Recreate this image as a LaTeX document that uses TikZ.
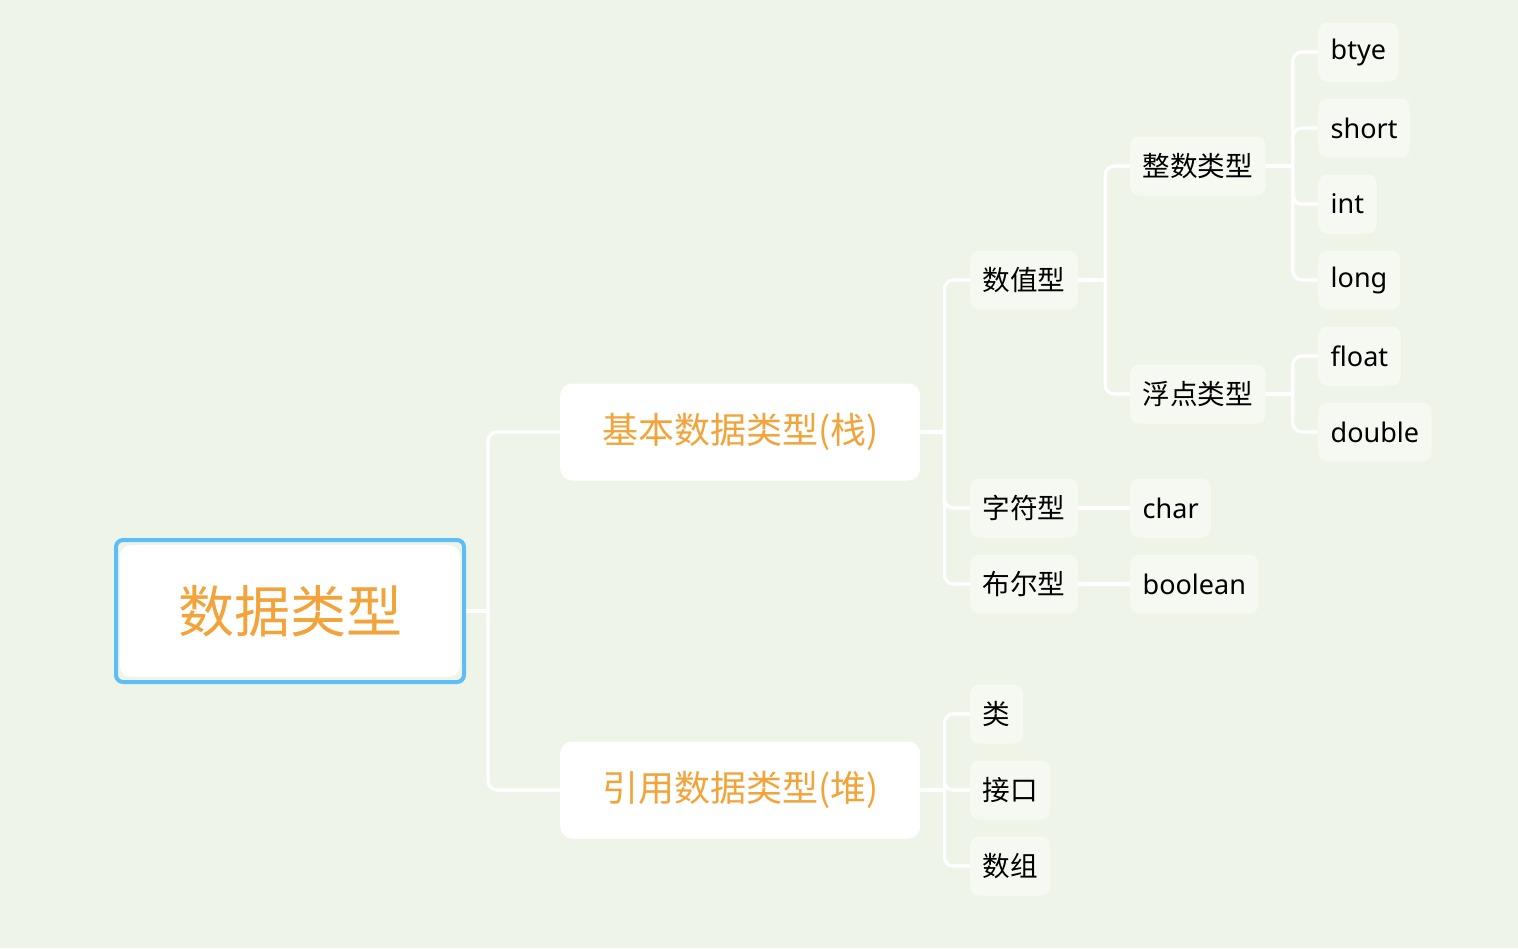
\documentclass[tikz,border=0pt]{standalone}
\usepackage{fontspec}
\setmainfont{Noto Sans}
\newfontfamily\cjk{Noto Sans CJK SC}
\usetikzlibrary{calc}
\definecolor{bgc}{HTML}{EEF4E8}
\definecolor{leaff}{HTML}{F6F9F1}
\definecolor{orng}{HTML}{F2A33A}
\definecolor{blu}{HTML}{5DBDF6}
\tikzset{
  conn/.style={draw=white,line width=3.2pt,rounded corners=9pt},
  leafbox/.style={fill=leaff,rounded corners=9pt,anchor=west,inner xsep=12.5pt,inner ysep=0pt,minimum height=59pt,font=\fontsize{27}{30}\selectfont,text=black},
  cleaf/.style={leafbox,font=\cjk\fontsize{27.6}{30}\selectfont},
  midbox/.style={fill=white,rounded corners=12pt,minimum width=360pt,minimum height=97pt,inner sep=0pt,anchor=west,font=\cjk\fontsize{36}{40}\selectfont,text=orng},
}
\begin{document}
\begin{tikzpicture}[x=1pt,y=-1pt]
\fill[bgc] (0,0) rectangle (1518,948);
\useasboundingbox (0,0) rectangle (1518,948);
% root
\node[draw=blu,line width=4pt,fill=bgc,rounded corners=7pt,minimum width=348pt,minimum height=142pt,inner sep=0pt] (root) at (290,611) {};
\node[fill=white,rounded corners=11pt,minimum width=340pt,minimum height=132pt,inner sep=0pt,font=\cjk\fontsize{56}{60}\selectfont,text=orng] (rootin) at (290,611) {数据类型};
% level 1
\node[midbox] (jb) at (560,432) {基本数据类型(栈)};
\node[midbox] (yy) at (560,790) {引用数据类型(堆)};
% level 2
\node[cleaf] (szx) at (970,280) {数值型};
\node[cleaf] (zfx) at (970,508) {字符型};
\node[cleaf] (bex) at (970,584) {布尔型};
\node[cleaf] (lei) at (970,714) {类};
\node[cleaf] (jk) at (970,790) {接口};
\node[cleaf] (sz) at (970,866) {数组};
% level 3
\node[cleaf] (zslx) at (1130,166) {整数类型};
\node[cleaf] (fdlx) at (1130,394) {浮点类型};
\node[leafbox] (char) at (1130,508) {char};
\node[leafbox] (bool) at (1130,584) {boolean};
% level 4
\node[leafbox] (btye) at (1318,52) {btye};
\node[leafbox] (short) at (1318,128) {short};
\node[leafbox] (int) at (1318,204) {int};
\node[leafbox] (long) at (1318,280) {long};
\node[leafbox] (float) at (1318,356) {float};
\node[leafbox] (double) at (1318,432) {double};
% connectors
\coordinate (b0) at ($(root.east)+(22,0)$);
\draw[conn] (root.east) -- (b0);
\foreach \c in {jb,yy} \draw[conn] (b0) |- (\c.west);
\coordinate (b1) at ($(jb.east)+(24,0)$);
\draw[conn] (jb.east) -- (b1);
\foreach \c in {szx,zfx,bex} \draw[conn] (b1) |- (\c.west);
\coordinate (b2) at ($(yy.east)+(24,0)$);
\draw[conn] (yy.east) -- (b2);
\foreach \c in {lei,jk,sz} \draw[conn] (b2) |- (\c.west);
\coordinate (b3) at ($(szx.east)+(27,0)$);
\draw[conn] (szx.east) -- (b3);
\foreach \c in {zslx,fdlx} \draw[conn] (b3) |- (\c.west);
\draw[conn] (zfx.east) -- (char.west);
\draw[conn] (bex.east) -- (bool.west);
\coordinate (b4) at ($(zslx.east)+(27,0)$);
\draw[conn] (zslx.east) -- (b4);
\foreach \c in {btye,short,int,long} \draw[conn] (b4) |- (\c.west);
\coordinate (b5) at ($(fdlx.east)+(27,0)$);
\draw[conn] (fdlx.east) -- (b5);
\foreach \c in {float,double} \draw[conn] (b5) |- (\c.west);
\end{tikzpicture}
\end{document}
